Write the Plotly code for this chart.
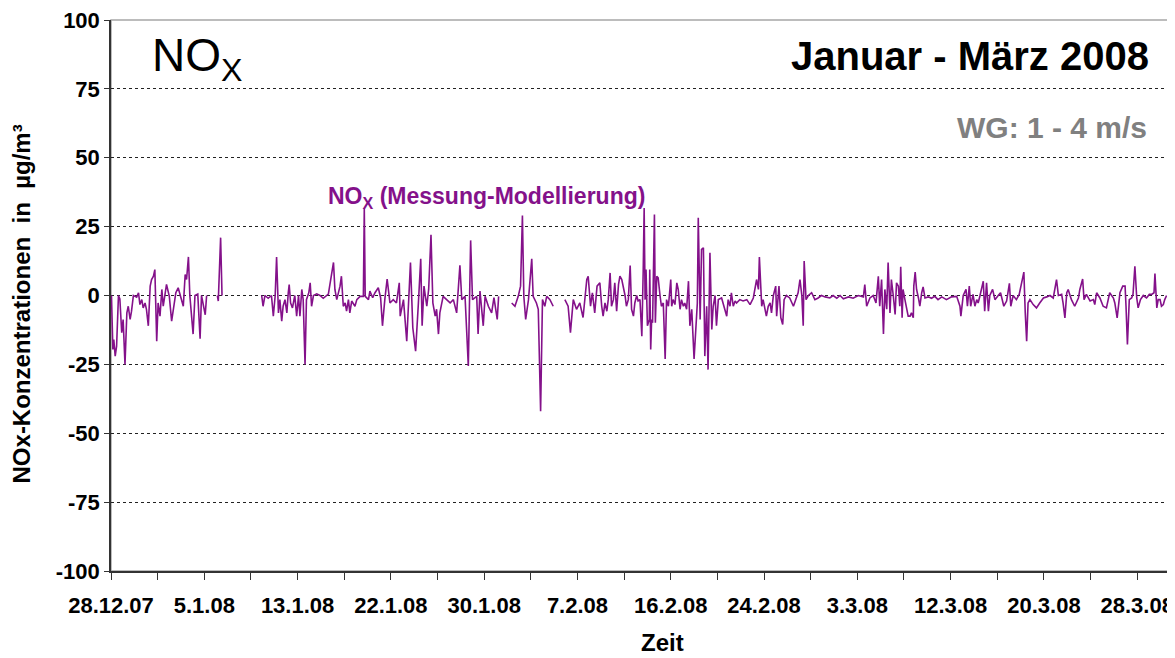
import pandas as pd
import plotly.graph_objects as go

# Stunden seit 28.12.2007 00:00 und NOx-Differenz Messung - Modellierung in µg/m³
# (None = Messluecke)
stunde = [
    1, 4, 6, 9, 12, 16, 19, 23, 26, 30, 34, 37, 41, 44, 48, 55, 59, 62, 66, 69,
    73, 76, 80, 84, 87, 91, 94, 98, 101, 105, 109, 112, 119, 125, 130, 134, 139, 144, 149, 155,
    159, 162, 166, 169, 176, 180, 186, 191, 194, 202, 205,
    216,
    228, 230, 235, 238,
    280,
    323, 326, 330, 337, 344, 348, 352, 355, 359, 362, 366, 369, 373, 377, 380, 382, 385, 389, 394, 398,
    402, 405, 409, 412, 416, 419, 424, 427, 430, 434, 441, 448, 455, 466, 477, 480, 484, 487, 491, 494,
    498, 502, 505, 509, 512, 516, 523, 527, 534, 541, 543, 545, 552, 555, 561, 566, 573, 578, 582, 587,
    592, 598, 605, 612, 618, 620, 627, 634, 637, 642, 647, 653, 659, 664, 667, 671, 677, 681, 686, 690,
    695, 698, 702, 705, 712, 720, 727, 734, 741, 748, 752, 759, 766, 771, 775, 784, 787, 791, 798, 802,
    809, 816, 821, 828, 831,
    845,
    859, 866, 873, 878, 882, 885, 889, 895, 902, 905, 912, 916, 921, 925, 930, 934, 941, 948,
    960,
    973, 980, 985, 991, 998, 1005, 1012, 1020, 1023, 1028, 1032, 1037, 1042, 1048,
    1052, 1055, 1059, 1063, 1066, 1070, 1073, 1077, 1080, 1084, 1088, 1091, 1095, 1098, 1102, 1105, 1109, 1113, 1116, 1120,
    1123, 1127, 1130, 1134, 1138, 1141, 1143, 1145, 1147, 1150, 1152, 1154, 1155, 1157, 1159, 1161, 1165, 1167, 1170, 1173,
    1177, 1180, 1184, 1188, 1191, 1195, 1200, 1202, 1205, 1209, 1213, 1216, 1220, 1223, 1227, 1230, 1234, 1238, 1241, 1245,
    1250, 1254, 1257, 1259, 1263, 1266, 1270, 1273, 1277, 1280, 1284, 1288, 1291, 1295, 1298, 1302, 1309, 1320, 1323, 1327,
    1330, 1334, 1338, 1341, 1348, 1355, 1363, 1370, 1377, 1384, 1388, 1390, 1393, 1395, 1398, 1402, 1405, 1409, 1413, 1416,
    1420, 1425, 1427, 1432, 1436, 1440, 1443, 1448, 1455, 1463, 1470, 1473, 1477, 1481, 1484, 1486, 1490, 1495, 1502, 1509,
    1516, 1523, 1531, 1541, 1548, 1556, 1563, 1570, 1581, 1591, 1602, 1613, 1616, 1620, 1627, 1634, 1640, 1645, 1648, 1652,
    1656, 1659, 1663, 1666, 1670, 1673, 1677, 1681, 1684, 1688, 1691, 1693, 1696, 1698, 1702, 1706, 1709, 1713, 1716, 1720,
    1721, 1724, 1727, 1731, 1734, 1738, 1741, 1745, 1752, 1759, 1766, 1773, 1781, 1791, 1802, 1813, 1820, 1822, 1825, 1827,
    1833, 1836, 1840, 1843, 1848, 1852, 1856, 1859, 1863, 1866, 1870, 1873, 1877, 1881, 1884, 1890, 1895, 1902, 1907, 1914,
    1920, 1926, 1929, 1934, 1941, 1947, 1952, 1957, 1960, 1963, 1966, 1970, 1977, 1984, 1991, 1999, 2006, 2013, 2020, 2027,
    2031, 2038, 2041, 2045, 2049, 2052, 2056, 2059, 2066, 2074, 2077, 2083, 2086, 2091, 2099, 2106, 2109, 2113, 2120, 2127,
    2134, 2141, 2149, 2152, 2157, 2163, 2169, 2174, 2176, 2179, 2183, 2188, 2191, 2195, 2199, 2202, 2207, 2213, 2220, 2226,
    2231, 2236, 2238, 2242, 2245, 2249, 2252, 2256, 2259, 2263,
]
nox_diff = [
    0, -19.6, -16, -22, -18.4, 0, -1.2, -13.5, -8.7, -25, -6.3, -3.9, -8.7, -5.7, 0, -0.6, 1, -3.3, -1.5, -4.5,
    -2.7, -5, -11, 3.4, 5.8, 7, 9.4, -16.6, -2.7, -7.5, 2.2, -3.9, 4, -0.3, -9.3, -3.9, 1, 2.8, -0.3, -3.9,
    7.6, 5.8, 14, 0, -14, 0, 0.5, -15.7, 0, -7, 0,
    None,
    0, -2, 21, 0,
    None,
    0, -3.9, 0, -1, 0, -7.5, 0, 14, -6.3, -1.5, -9.3, -3.9, -1.5, -6.3, 1, 4, -2.7, -4.5, 0, -7.5,
    0, -7.5, 2.2, -1.5, -25, -1.5, 1, 4.6, -3.9, 0, 0.6, 0, -1, 0.5, 12, 2.2, -1.5, 0.4, 3.4, 7,
    -3.9, -2.7, -5.7, -1.5, -6.3, -2, -3.9, -1.5, -0.3, -0.3, 31.5, -0.3, -1.5, 1.6, -0.8, 1, 2.8, -0.8, -11, -1.5,
    6, -2.7, -1.5, -2.7, 4.6, -7.5, -1.5, -16.6, -3.9, 12, -11.7, -20.2, -2.7, 13.3, -11, 3.4, -3.9, 2.2, 22, -2.7,
    -7.5, -5, -14, -6.3, -0.3, -1.5, -2.7, -1.5, -6.3, 11, -1.5, -0.3, -25.6, 20, -1.5, -0.3, -14, 1.6, -11, -0.3,
    -3.9, -6.3, -0.8, -8.7, -0.3,
    None,
    -2.7, -3.9, -0.3, 3.4, 29, -0.3, -8.7, -1.5, 13.3, -0.3, -2.7, -5, -42, -1.5, -3.9, -0.3, -1.5, -3.9,
    None,
    -1.5, -3.9, -13.5, -1.5, -5, -2.7, -8, 5.8, 7, -3.9, 1, -6.3, 3.4, 4.6,
    -3.9, -7.5, -2.7, -5.7, -1.5, 8.2, -3.9, -1.5, 4.6, -5.7, 4, 7, 5.8, 3.4, 0, -3.9, -1.5, 10.9, -5, -7.5,
    -2.7, 0, -2, -1.5, -14.8, 9.4, 31.8, -1.5, 9.4, -11, -9.9, -8.7, 9.4, -19.6, -8.7, -9.9, 29.4, -9.9, 7, 6.4,
    0, -3.9, -2.7, -23, -1.5, -3.9, 5.8, -3.9, -1.5, -3.3, 4.6, 2.2, -5, -1.5, -3.9, -2.7, -5, 5.2, -11, -5,
    -23, -12.3, -2.7, 28.2, -8.7, 16.7, 17.3, -22, -3.9, -26.9, 15.5, -12.3, -3.9, 0, -11, -1.5, -0.9, -7.5, -1.5, -3.9,
    1, -3.9, -2, -2.7, -1.5, -2, -1.5, -3.3, -0.9, 5.8, 2.2, 14, 5.8, -3.9, -1.5, -4.5, -7.5, -3.9, -2.7, -6.3,
    0, 3.4, -7.5, 3.4, -8.1, -10.5, -1.5, 0, -0.9, -3.9, 0, 1, 5.8, 0, -11, 12.5, -1.5, 0, 1, -1.5,
    -0.9, 0, -0.5, -0.9, 0, -1, 0, -1.2, -0.5, -1, 0, -0.5, 4, -3.9, -0.9, 0, -2.7, 7, -3.9, 5.8,
    -14, 2.2, -5, 12, -6.3, 5.8, 0, -6.9, 4.6, 3.4, -3.9, 10.4, -8.1, 2.2, -1.5, -5, -7.5, -7.5, -6.3, -8.1,
    3.4, 8.5, 2.2, -0.9, -3.9, 1, 3.1, -0.9, -0.5, -1, -0.3, -1.5, -0.5, -1.5, -0.5, -0.3, -3.9, -7.5, -2.7, 0,
    2.2, -3.9, 3.4, -3.9, 0.4, -3.9, -1.5, -2.7, 0, 2.2, 5.2, -5.7, 4.6, -5.7, 0, 2.2, -1.5, 0, 1, -3.9,
    -2, 4.4, -3.9, 0, -1.5, 0.4, 4, 8.5, -6.3, -16.6, -2.7, -1.5, -3.3, -4.5, -2.7, -0.9, -0.5, 0, -0.9, 5.8,
    0, 0.4, -2.7, -8.1, 1, 2.2, 0, -1.5, -3.9, -0.9, 2.2, 6, -1.5, 0.4, -2, -1.5, -3.3, 1, -0.9, -3.9,
    -4.5, 1, -0.9, -2.7, -8.1, 1, 3.4, 3.4, -3.9, -17.8, -1.5, -0.9, 0.4, 10.6, -0.9, -4.5, -1.5, 0, -0.9, 0.4,
    0.4, 1, 8, -4.5, -1.5, -1.5, -3.9, -3.3, -1.5, 0,
]

y_werte = [-100, -75, -50, -25, 0, 25, 50, 75, 100]
y_labels = ["-100", "-75", "-50", "-25", "0", "25", "50", "75", "100"]
tick_stunden = list(range(0, 2201, 100))
x_labels = ["28.12.07", "5.1.08", "13.1.08", "22.1.08", "30.1.08", "7.2.08",
            "16.2.08", "24.2.08", "3.3.08", "12.3.08", "20.3.08", "28.3.08"]

start = pd.Timestamp("2007-12-28 00:00")
zeit = start + pd.to_timedelta(stunde, unit="h")
tick_pos = start + pd.to_timedelta(tick_stunden, unit="h")
tick_text = []
for i in range(len(tick_stunden)):
    tick_text.append(x_labels[i // 2] if i % 2 == 0 else "")

lila = "#84118a"

fig = go.Figure()
fig.add_trace(go.Scatter(x=zeit, y=nox_diff, mode="lines",
                         line=dict(color=lila, width=1.6), connectgaps=False))

# die Seite hat 8px Rand, daher Figur etwas kleiner
fig.update_layout(
    width=1167, height=650,
    margin=dict(l=103, r=7, t=12, b=87),
    plot_bgcolor="white", paper_bgcolor="white",
    showlegend=False,
    font=dict(family="Liberation Sans, Arial, sans-serif", color="black"),
)
fig.update_xaxes(
    range=[start, start + pd.Timedelta(hours=2266)],
    tickmode="array", tickvals=tick_pos, ticktext=tick_text,
    ticks="outside", ticklen=7, tickcolor="#333", tickwidth=1,
    showline=True, linecolor="#333", linewidth=1.5,
    showgrid=False, zeroline=False, automargin=False,
    tickfont=dict(size=22, weight="bold"), ticklabelstandoff=7,
    ticklabeloverflow="allow",
)
fig.update_yaxes(
    range=[-100, 100],
    tickmode="array", tickvals=y_werte, ticktext=y_labels,
    ticks="outside", ticklen=5, tickcolor="#333",
    showline=True, linecolor="#333", linewidth=1.5,
    showgrid=True, gridcolor="#222", griddash="dot", gridwidth=1,
    zeroline=False, automargin=False,
    tickfont=dict(size=22, weight="bold"),
    ticklabeloverflow="allow",
)

# grauer Rahmen oben/rechts
fig.add_shape(type="rect", xref="paper", yref="paper", x0=0, y0=0, x1=1, y1=1,
              line=dict(color="#a6a6a6", width=1.5), layer="below")

fig.add_annotation(text="NO<sub>X</sub>", xref="paper", yref="paper",
                   x=0.037, y=0.93, xanchor="left", yanchor="middle",
                   showarrow=False, font=dict(size=46, color="black"))
fig.add_annotation(text="<b>Januar - März 2008</b>", xref="paper", yref="paper",
                   x=0.984, y=0.935, xanchor="right", yanchor="middle",
                   showarrow=False, font=dict(size=40, color="black"))
fig.add_annotation(text="<b>WG: 1 - 4 m/s</b>", xref="paper", yref="paper",
                   x=0.982, y=0.805, xanchor="right", yanchor="middle",
                   showarrow=False, font=dict(size=30, color="#808080"))
fig.add_annotation(text="<b>NO<sub>X</sub> (Messung-Modellierung)</b>", xref="paper", yref="paper",
                   x=0.2035, y=0.677, xanchor="left", yanchor="middle",
                   showarrow=False, font=dict(size=23, color=lila))
fig.add_annotation(text="<b>NOx-Konzentrationen  in  µg/m³</b>", xref="paper", yref="paper",
                   x=-0.085, y=0.484, xanchor="center", yanchor="middle", textangle=-90,
                   showarrow=False, font=dict(size=24, color="black"))
fig.add_annotation(text="<b>Zeit</b>", xref="paper", yref="paper",
                   x=0.522, y=-0.129, xanchor="center", yanchor="middle",
                   showarrow=False, font=dict(size=24, color="black"))

fig.write_html("out.html")
